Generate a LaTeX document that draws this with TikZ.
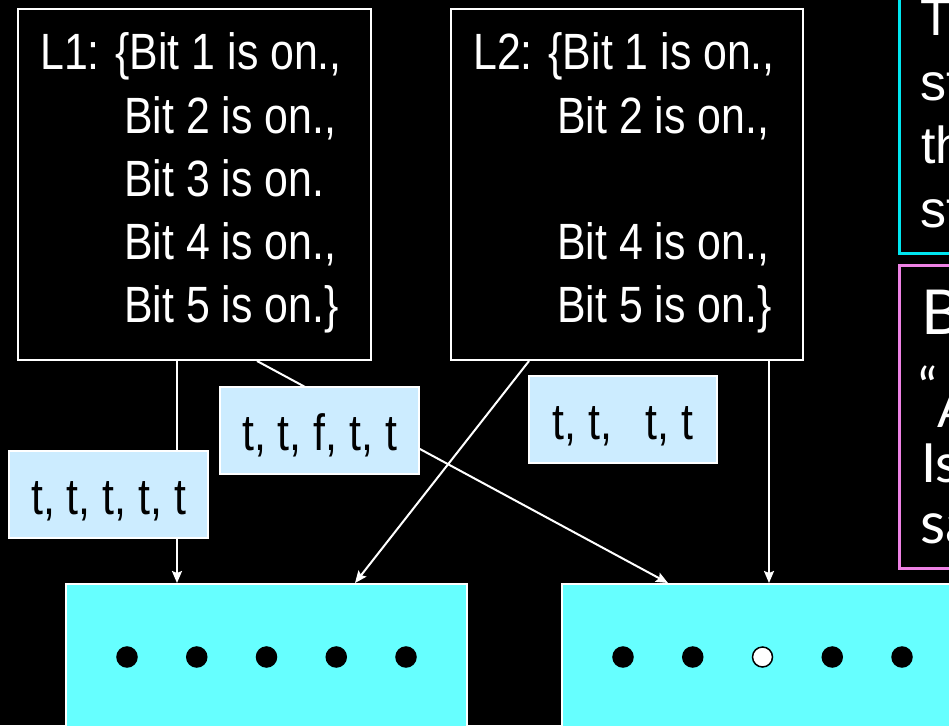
\documentclass[tikz,border=0pt]{standalone}
\usepackage{fontspec}
\setmainfont{Liberation Sans}[FakeStretch=0.84]
\newfontfamily\widesans{Liberation Sans}
\newfontfamily\humsans{Lato}
\usetikzlibrary{arrows.meta}
\definecolor{lblue}{RGB}{204,236,255}
\definecolor{aqua}{RGB}{102,255,255}
\definecolor{notecyan}{RGB}{0,230,240}
\definecolor{noteviolet}{RGB}{238,130,228}
\newcommand{\bitindent}{\hspace*{84pt}}

\begin{document}
\begin{tikzpicture}[x=1pt,y=-1pt,
  bigbox/.style={draw=white, line width=2pt, fill=black, minimum width=353pt,
    minimum height=351pt, inner sep=0pt},
  txt/.style={text=white, inner sep=0pt, font=\fontsize{51}{63}\selectfont},
  tag/.style={draw=white, line width=2pt, fill=lblue, text=black, inner sep=0pt,
    minimum height=87pt, text height=44pt, text depth=5pt,
    font=\fontsize{51}{63}\selectfont},
  pool/.style={draw=white, line width=2pt, fill=aqua, minimum width=401pt,
    minimum height=160pt, inner sep=0pt},
  bit/.style={circle, draw=black, fill=black, minimum size=20pt, inner sep=0pt,
    line width=1.5pt},
  arr/.style={draw=white, line width=2pt,
    -{Stealth[length=12pt,width=10pt,inset=2pt]}},
  note/.style={line width=2.5pt, anchor=north west, minimum width=120pt, inner sep=0pt},
  notetxt/.style={text=white, inner sep=0pt, anchor=base west},
]
\useasboundingbox (0,0) rectangle (949,725);
\clip (0,0) rectangle (949,725);
\fill[black] (0,0) rectangle (949,725);

% the two sets of propositions
\node[bigbox] (l1) at (194.5,184.5) {};
\node[bigbox, minimum width=352pt] (l2) at (627,184.5) {};
\node[txt, anchor=base west] (l1txt) at (40,70) {\begin{tabular}[t]{@{}l@{}}
  L1: \{Bit 1 is on.,\\
  \bitindent Bit 2 is on.,\\
  \bitindent Bit 3 is on.\\
  \bitindent Bit 4 is on.,\\
  \bitindent Bit 5 is on.\}
\end{tabular}};
\node[txt, anchor=base west] (l2txt) at (473,70) {\begin{tabular}[t]{@{}l@{}}
  L2: \{Bit 1 is on.,\\
  \bitindent Bit 2 is on.,\\
  \\
  \bitindent Bit 4 is on.,\\
  \bitindent Bit 5 is on.\}
\end{tabular}};

% the two registers of bits
\node[pool] (ba) at (266.5,664) {};
\node[pool] (bb) at (762.5,664) {};
\foreach \i in {0,...,4} {
  \node[bit] (a\i) at (127+69.75*\i,657) {};
}
\foreach \i/\f in {0/black,1/black,2/white,3/black,4/black} {
  \node[bit, fill=\f] (b\i) at (623+69.75*\i,657) {};
}

% interpretations
\draw[arr] ([xshift=160pt]l1.south west) -- ([xshift=112pt]ba.north west);
\draw[arr] ([xshift=240pt]l1.south west) -- ([xshift=107pt]bb.north west);
\draw[arr] ([xshift=79pt]l2.south west) -- ([xshift=290pt]ba.north west);
\draw[arr] ([xshift=319pt]l2.south west) -- ([xshift=208pt]bb.north west);

\node[tag, minimum width=199pt] (t1) at (108.5,494.5) {t, t, t, t, t};
\node[tag, minimum width=199pt] (t2) at (319.5,430.5) {t, t, f, t, t};
\node[tag, minimum width=188pt] (t3) at (623,419.5) {t, t,\hspace{34pt}t, t};

% side notes
\node[note, draw=notecyan, minimum height=272pt] (n1) at (898,-20) {};
\node[note, draw=noteviolet, minimum height=303pt] (n2) at (898,264) {};
\begin{scope}[every node/.append style={notetxt, font=\widesans\fontsize{52}{64}\selectfont}]
  \node (n1a) at (920,36) {T};
  \node (n1b) at (920,100) {st};
  \node (n1c) at (921,163) {th};
  \node (n1d) at (920,227) {st};
\end{scope}
\node[notetxt, font=\humsans\fontsize{62}{70}\selectfont] (n2a) at (921,334) {B};
\node[notetxt, font=\humsans\fontsize{52}{60}\selectfont] (n2q) at (918,405) {“};
\node[notetxt, font=\humsans\fontsize{50}{60}\selectfont] (n2b) at (937,427) {A};
\node[notetxt, font=\humsans\fontsize{54}{64}\selectfont] (n2c) at (921,482) {Is};
\node[notetxt, font=\humsans\fontsize{58}{64}\selectfont] (n2d) at (920,543) {sa};
\end{tikzpicture}
\end{document}
